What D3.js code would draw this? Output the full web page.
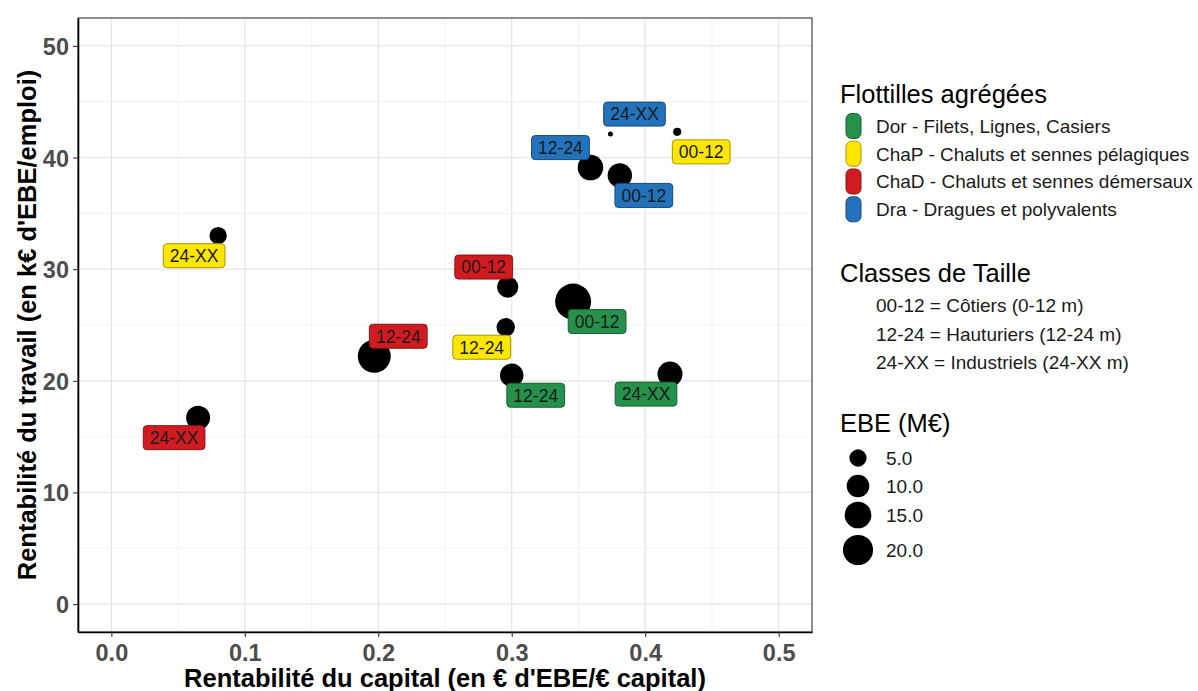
<!DOCTYPE html>
<html>
<head>
<meta charset="utf-8">
<script src="https://cdn.jsdelivr.net/npm/d3@7"></script>
<style>
  html, body { margin: 0; padding: 0; background: #fff; }
  svg { display: block; font-family: "Liberation Sans", Arial, sans-serif; }
</style>
</head>
<body>
<svg id="chart" width="1198" height="691"></svg>
<script>
// ---------------- DATA ----------------
const flottilleCodes = ["Dor", "ChaP", "ChaD", "Dra"];
const flottilleLabels = [
  "Dor - Filets, Lignes, Casiers",
  "ChaP - Chaluts et sennes pélagiques",
  "ChaD - Chaluts et sennes démersaux",
  "Dra - Dragues et polyvalents"
];
const classeLegend = [
  "00-12 = Côtiers (0-12 m)",
  "12-24 = Hauturiers (12-24 m)",
  "24-XX = Industriels (24-XX m)"
];
const ebeLegendValues = [5, 10, 15, 20];
const xTicks = [0, 0.1, 0.2, 0.3, 0.4, 0.5];
const yTicks = [0, 10, 20, 30, 40, 50];

const pointFlottille = ["Dra", "ChaP", "Dra", "Dra", "ChaP", "ChaD", "Dor", "ChaP", "ChaD", "Dor", "Dor", "ChaD"];
const pointClasse    = ["24-XX", "00-12", "12-24", "00-12", "24-XX", "00-12", "00-12", "12-24", "12-24", "12-24", "24-XX", "24-XX"];
const rentCapital    = [0.374, 0.424, 0.359, 0.381, 0.080, 0.297, 0.346, 0.2955, 0.197, 0.300, 0.4186, 0.065];
const rentTravail    = [42.1, 42.3, 39.1, 38.4, 33.0, 28.4, 27.1, 24.8, 22.2, 20.5, 20.6, 16.7];
const ebe            = [0.3, 0.6, 13.5, 12.0, 5.1, 8.5, 30.3, 5.9, 24.8, 10.9, 12.8, 11.6];

// ---------------- LAYOUT / STYLE ----------------
const colors = { Dor: "#25914b", ChaP: "#ffe600", ChaD: "#d01c20", Dra: "#2372bc" };
// label nudges (pixels) from each point, as placed by the repel layout
const labelDx = [24, 24, -30, 24, -24, -24, 24, -24, 24, 24, -24, -24];
const labelDy = [-20, 20, -20, 20, 20, -20, 20, 20, -20, 20, 20, 20];

const W = 1198, H = 691;
const panel = { left: 78, right: 812, top: 18, bottom: 632 };

const svg = d3.select("#chart");
svg.append("rect").attr("width", W).attr("height", H).attr("fill", "#fff");

const x = d3.scaleLinear().domain([-0.025, 0.525]).range([panel.left, panel.right]);
const y = d3.scaleLinear().domain([-2.5, 52.5]).range([panel.bottom, panel.top]);

const ebeNorm = d3.scaleLinear().domain(d3.extent(ebe)).range([0, 1]);
const radius = d3.scaleSqrt().domain([0, 1]).range([2.5, 18]);
const r = v => radius(Math.max(0, ebeNorm(v)));

// grid
const g = svg.append("g");
const xMinor = [0.05, 0.15, 0.25, 0.35, 0.45];
const yMinor = [5, 15, 25, 35, 45];
g.selectAll(".xminor").data(xMinor).join("line")
  .attr("x1", d => x(d)).attr("x2", d => x(d)).attr("y1", panel.top).attr("y2", panel.bottom)
  .attr("stroke", "#ececec").attr("stroke-width", 0.7);
g.selectAll(".yminor").data(yMinor).join("line")
  .attr("y1", d => y(d)).attr("y2", d => y(d)).attr("x1", panel.left).attr("x2", panel.right)
  .attr("stroke", "#ececec").attr("stroke-width", 0.7);
g.selectAll(".xmajor").data(xTicks).join("line")
  .attr("x1", d => x(d)).attr("x2", d => x(d)).attr("y1", panel.top).attr("y2", panel.bottom)
  .attr("stroke", "#e6e6e6").attr("stroke-width", 1.3);
g.selectAll(".ymajor").data(yTicks).join("line")
  .attr("y1", d => y(d)).attr("y2", d => y(d)).attr("x1", panel.left).attr("x2", panel.right)
  .attr("stroke", "#e6e6e6").attr("stroke-width", 1.3);

// panel border
svg.append("rect")
  .attr("x", panel.left).attr("y", panel.top)
  .attr("width", panel.right - panel.left).attr("height", panel.bottom - panel.top)
  .attr("fill", "none").attr("stroke", "#333").attr("stroke-width", 1.1);

// axes
const xAxis = d3.axisBottom(x).tickValues(xTicks).tickFormat(d3.format(".1f")).tickSize(5).tickSizeOuter(0).tickPadding(3);
const yAxis = d3.axisLeft(y).tickValues(yTicks).tickFormat(d3.format("d")).tickSize(5).tickSizeOuter(0).tickPadding(4);
const gx = svg.append("g").attr("transform", `translate(0,${panel.bottom})`).call(xAxis);
const gy = svg.append("g").attr("transform", `translate(${panel.left},0)`).call(yAxis);
[gx, gy].forEach(a => {
  a.select(".domain").attr("stroke", "#000").attr("stroke-width", 1.6);
  a.selectAll(".tick line").attr("stroke", "#333").attr("stroke-width", 1.1);
  a.selectAll(".tick text").attr("fill", "#4d4d4d").attr("font-size", 23.5).attr("font-weight", "bold")
    .attr("font-family", "'Liberation Sans', Arial, sans-serif");
});
gx.selectAll(".tick text").attr("dy", "0.9em");
gy.selectAll(".tick text").attr("dy", "0.36em");

// axis titles
svg.append("text")
  .attr("x", (panel.left + panel.right) / 2).attr("y", 687)
  .attr("text-anchor", "middle").attr("font-size", 25.5).attr("font-weight", "bold").attr("fill", "#000")
  .text("Rentabilité du capital (en € d'EBE/€ capital)");
svg.append("text")
  .attr("transform", `translate(36,${(panel.top + panel.bottom) / 2}) rotate(-90)`)
  .attr("text-anchor", "middle").attr("font-size", 25.5).attr("font-weight", "bold").attr("fill", "#000")
  .text("Rentabilité du travail (en k€ d'EBE/emploi)");

// points
const idx = d3.range(ebe.length);
svg.append("g").selectAll("circle").data(idx).join("circle")
  .attr("cx", i => x(rentCapital[i])).attr("cy", i => y(rentTravail[i]))
  .attr("r", i => r(ebe[i])).attr("fill", "#000");

// labels
const lab = svg.append("g").selectAll("g").data(idx).join("g")
  .attr("transform", i => `translate(${x(rentCapital[i]) + labelDx[i]},${y(rentTravail[i]) + labelDy[i]})`);
lab.each(function (i) {
  const gg = d3.select(this);
  const fill = colors[pointFlottille[i]];
  const rect = gg.append("rect");
  const t = gg.append("text").attr("text-anchor", "middle").attr("dy", "0.36em")
    .attr("font-size", 17.5).attr("fill", "#1a1a1a").text(pointClasse[i]);
  const w = t.node().getComputedTextLength() + 13;
  const h = 24;
  rect.attr("x", -w / 2).attr("y", -h / 2).attr("width", w).attr("height", h).attr("rx", 3.5)
    .attr("fill", fill).attr("stroke", d3.color(fill).darker(1.2)).attr("stroke-width", 1);
});

// ---------------- LEGENDS ----------------
const L = svg.append("g");
L.append("text").attr("x", 840).attr("y", 103).attr("font-size", 25.5).attr("fill", "#000").text("Flottilles agrégées");
const rowsY = [126, 153.7, 181.5, 209.3];
flottilleCodes.forEach((c, k) => {
  L.append("rect").attr("x", 846).attr("y", rowsY[k] - 12.5).attr("width", 15).attr("height", 25).attr("rx", 5.5)
    .attr("fill", colors[c]).attr("stroke", d3.color(colors[c]).darker(1.2)).attr("stroke-width", 1);
  L.append("text").attr("x", 876).attr("y", rowsY[k]).attr("dy", "0.36em").attr("font-size", 19).attr("fill", "#1a1a1a")
    .text(flottilleLabels[k]);
});

L.append("text").attr("x", 840).attr("y", 282).attr("font-size", 25.5).attr("fill", "#000").text("Classes de Taille");
classeLegend.forEach((t, k) => {
  L.append("text").attr("x", 876).attr("y", 305.5 + k * 28.5).attr("dy", "0.36em").attr("font-size", 19).attr("fill", "#1a1a1a").text(t);
});

L.append("text").attr("x", 840).attr("y", 432).attr("font-size", 25.5).attr("fill", "#000").text("EBE (M€)");
const ebeRowsY = [458, 486, 515, 550];
ebeLegendValues.forEach((v, k) => {
  L.append("circle").attr("cx", 858).attr("cy", ebeRowsY[k]).attr("r", r(v)).attr("fill", "#000");
  L.append("text").attr("x", 886).attr("y", ebeRowsY[k]).attr("dy", "0.36em").attr("font-size", 19).attr("fill", "#1a1a1a")
    .text(d3.format(".1f")(v));
});
</script>
</body>
</html>
